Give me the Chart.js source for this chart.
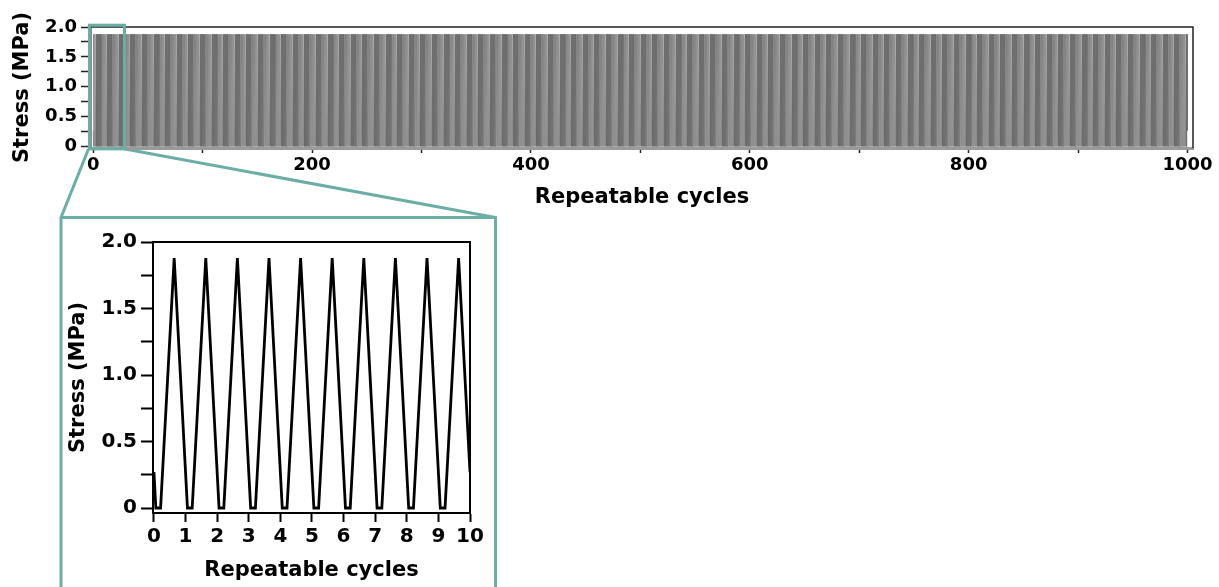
<!DOCTYPE html>
<html>
<head>
<meta charset="utf-8">
<script src="https://cdn.jsdelivr.net/npm/chart.js@4.4.1/dist/chart.umd.min.js"></script>
<style>
  html, body { margin: 0; padding: 0; background: #fff; }
  body { position: relative; width: 1219px; height: 587px; overflow: hidden; }
  #overviewWrap { position: absolute; left: 0; top: 0; width: 1219px; height: 215px; }
  #detailWrap { position: absolute; left: 62px; top: 219px; width: 433px; height: 368px; }
  #zoomLines { position: absolute; left: 0; top: 0; }
</style>
</head>
<body>
<svg id="zoomLines" width="1219" height="587">
  <polyline points="88.5,149 61,217.5 61,600" fill="none" stroke="#6aaea6" stroke-width="3"/>
  <polyline points="125,149 495.5,217.5 495.5,600" fill="none" stroke="#6aaea6" stroke-width="3"/>
  <line x1="61" y1="217.5" x2="495.5" y2="217.5" stroke="#6aaea6" stroke-width="3"/>
</svg>
<div id="overviewWrap"><canvas id="overviewChart"></canvas></div>
<div id="detailWrap"><canvas id="detailChart"></canvas></div>
<script>
// one loading cycle (phase within the cycle, stress in MPa)
const cyclePhase = [0.06, 0.21, 0.64];
const cycleStress = [0, 0, 1.88];
const startStress = 0.27;
const overviewCycles = 1000;
const detailCycles = 10;

// axis ticks
const overviewXTicks = [0, 100, 200, 300, 400, 500, 600, 700, 800, 900, 1000];
const overviewXLabels = [0, 200, 400, 600, 800, 1000];
const stressTicks = [0, 0.25, 0.5, 0.75, 1, 1.25, 1.5, 1.75, 2];
const stressLabels = { 0: "0", 0.5: "0.5", 1: "1.0", 1.5: "1.5", 2: "2.0" };
const detailXTicks = [0, 1, 2, 3, 4, 5, 6, 7, 8, 9, 10];

// window of the overview that the teal box marks
const zoomWindow = [-3.4, 28.6];

const TEAL = "#6aaea6";
const FONT = "'DejaVu Sans', sans-serif";

function buildCycles(count) {
  const points = [{ x: 0, y: startStress }];
  for (let c = 0; c < count; c++) {
    for (let k = 0; k < cyclePhase.length; k++) {
      points.push({ x: c + cyclePhase[k], y: cycleStress[k] });
    }
  }
  points.push({ x: count, y: startStress });
  return points;
}

function setTicks(values) {
  return (scale) => {
    scale.ticks = values.map((v) => ({ value: v }));
  };
}

const frame = {
  id: "frame",
  afterDraw(chart, args, opts) {
    const { ctx, chartArea: a } = chart;
    ctx.save();
    ctx.strokeStyle = opts.color;
    ctx.lineWidth = opts.width;
    ctx.beginPath();
    ctx.moveTo(a.left, a.top);
    ctx.lineTo(a.right, a.top);
    ctx.lineTo(a.right, a.bottom);
    ctx.stroke();
    if (opts.zoom) {
      const x = chart.scales.x;
      const y = chart.scales.y;
      const x0 = x.getPixelForValue(zoomWindow[0]);
      const x1 = x.getPixelForValue(zoomWindow[1]);
      const y0 = y.getPixelForValue(2.03);
      const y1 = y.getPixelForValue(-0.04);
      ctx.strokeStyle = TEAL;
      ctx.lineWidth = 3;
      ctx.strokeRect(x0, y0, x1 - x0, y1 - y0);
    }
    ctx.restore();
  },
};

function createOverview() {
  const ctx = document.getElementById("overviewChart").getContext("2d");
  return new Chart(ctx, {
    type: "line",
    data: {
      datasets: [
        {
          data: buildCycles(overviewCycles),
          borderColor: "#5e5e5e",
          borderWidth: 0.5,
          pointRadius: 0,
          tension: 0,
          fill: false,
        },
      ],
    },
    options: {
      animation: false,
      responsive: true,
      maintainAspectRatio: false,
      layout: { padding: { top: 27, right: 26, left: 0, bottom: 0 } },
      plugins: {
        legend: { display: false },
        tooltip: { enabled: false },
        frame: { color: "#222", width: 1.5, zoom: true },
      },
      scales: {
        x: {
          type: "linear",
          min: -2,
          max: 1005,
          afterBuildTicks: setTicks(overviewXTicks),
          afterFit: (s) => { s.height = 67; },
          ticks: {
            color: "#000",
            padding: 2,
            maxRotation: 0,
            autoSkip: false,
            font: { family: FONT, weight: "bold", size: 18 },
            callback: (v) => (overviewXLabels.includes(v) ? String(v) : ""),
          },
          grid: { drawOnChartArea: false, tickLength: 5, tickWidth: 1.5, tickColor: "#222" },
          border: { color: "#9a9a9a", width: 3 },
          title: {
            display: true,
            text: "Repeatable cycles",
            color: "#000",
            font: { family: FONT, weight: "bold", size: 21 },
            padding: { top: 0, bottom: 5 },
          },
        },
        y: {
          min: -0.025,
          max: 2,
          afterBuildTicks: setTicks(stressTicks),
          afterFit: (s) => { s.width = 91; },
          ticks: {
            color: "#000",
            padding: 4,
            autoSkip: false,
            font: { family: FONT, weight: "bold", size: 18 },
            callback: (v) => stressLabels[v] ?? "",
          },
          grid: { drawOnChartArea: false, tickLength: 10, tickWidth: 1.5, tickColor: "#222" },
          border: { color: "#222", width: 1.5 },
          title: {
            display: true,
            text: "Stress (MPa)",
            color: "#000",
            font: { family: FONT, weight: "bold", size: 21 },
            padding: { top: 10, bottom: 0 },
          },
        },
      },
    },
    plugins: [frame],
  });
}

function createDetail() {
  const ctx = document.getElementById("detailChart").getContext("2d");
  return new Chart(ctx, {
    type: "line",
    data: {
      datasets: [
        {
          data: buildCycles(detailCycles),
          borderColor: "#000",
          borderWidth: 2.8,
          pointRadius: 0,
          tension: 0,
          fill: false,
        },
      ],
    },
    options: {
      animation: false,
      responsive: true,
      maintainAspectRatio: false,
      layout: { padding: { top: 23, right: 25, left: 0, bottom: 0 } },
      plugins: {
        legend: { display: false },
        tooltip: { enabled: false },
        frame: { color: "#000", width: 2, zoom: false },
      },
      scales: {
        x: {
          type: "linear",
          min: -0.03,
          max: 10,
          afterBuildTicks: setTicks(detailXTicks),
          afterFit: (s) => { s.height = 74; },
          ticks: {
            color: "#000",
            padding: 3,
            maxRotation: 0,
            autoSkip: false,
            font: { family: FONT, weight: "bold", size: 20 },
            callback: (v) => String(v),
          },
          grid: { drawOnChartArea: false, tickLength: 9, tickWidth: 2, tickColor: "#000" },
          border: { color: "#000", width: 2 },
          title: {
            display: true,
            text: "Repeatable cycles",
            color: "#000",
            font: { family: FONT, weight: "bold", size: 21 },
            padding: { top: 0, bottom: 4 },
          },
        },
        y: {
          min: -0.0375,
          max: 2,
          afterBuildTicks: setTicks(stressTicks),
          afterFit: (s) => { s.width = 91; },
          ticks: {
            color: "#000",
            padding: 4,
            autoSkip: false,
            font: { family: FONT, weight: "bold", size: 20 },
            callback: (v) => stressLabels[v] ?? "",
          },
          grid: { drawOnChartArea: false, tickLength: 12, tickWidth: 2, tickColor: "#000" },
          border: { color: "#000", width: 2 },
          title: {
            display: true,
            text: "Stress (MPa)",
            color: "#000",
            font: { family: FONT, weight: "bold", size: 21 },
            padding: { top: 4, bottom: 0 },
          },
        },
      },
    },
    plugins: [frame],
  });
}

createOverview();
createDetail();
</script>
</body>
</html>
